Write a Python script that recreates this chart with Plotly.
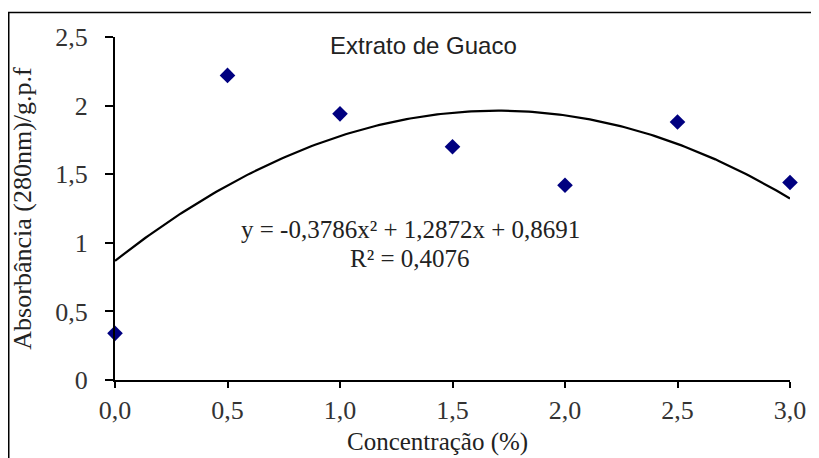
import plotly.graph_objects as go
import numpy as np

# data
concentracao = [0.0, 0.5, 1.0, 1.5, 2.0, 2.5, 3.0]
absorbancia = [0.34, 2.22, 1.94, 1.70, 1.42, 1.88, 1.44]
poly_coef = [-0.3786, 1.2872, 0.8691]  # a, b, c
r2 = 0.4076
x_ticks = [0.0, 0.5, 1.0, 1.5, 2.0, 2.5, 3.0]
x_ticklabels = ["0,0", "0,5", "1,0", "1,5", "2,0", "2,5", "3,0"]
y_ticks = [0, 0.5, 1, 1.5, 2, 2.5]
y_ticklabels = ["0", "0,5", "1", "1,5", "2", "2,5"]

xf = np.linspace(0, 3, 200)
yf = np.polyval(poly_coef, xf)

serif = "Liberation Serif, Times New Roman, serif"

W, H = 811, 450
L, R, T, B = 107, 29, 29, 78
PW, PH = W - L - R, H - T - B


def px(xpix):
    return (xpix - L) / PW


def py(ypix):
    return (H - B - ypix) / PH


fig = go.Figure()
fig.add_trace(go.Scatter(x=xf, y=yf, mode="lines",
                         line=dict(color="black", width=2.2),
                         hoverinfo="skip", showlegend=False))
fig.add_trace(go.Scatter(x=concentracao, y=absorbancia, mode="markers",
                         marker=dict(symbol="diamond", size=12, color="#000080"),
                         cliponaxis=False, showlegend=False))

fig.update_layout(
    width=W, height=H,
    margin=dict(l=L, r=R, t=T, b=B, autoexpand=False),
    paper_bgcolor="white", plot_bgcolor="white",
    font=dict(family=serif, size=26, color="#222222"),
    xaxis=dict(range=[0, 3], tickvals=x_ticks, ticktext=x_ticklabels,
               showgrid=False, zeroline=False, showline=True, automargin=False,
               linecolor="black", linewidth=2, ticks="outside", ticklen=6,
               tickwidth=2, tickcolor="black",
               tickfont=dict(family=serif, size=26, color="#333333")),
    yaxis=dict(range=[0, 2.5], tickvals=y_ticks, ticktext=y_ticklabels,
               showgrid=False, zeroline=False, showline=True, automargin=False,
               linecolor="black", linewidth=2, ticks="outside", ticklen=8,
               tickwidth=2, tickcolor="black", ticklabelstandoff=12,
               tickfont=dict(family=serif, size=26, color="#333333"),
               title=dict(text="Absorbância (280nm)/g.p.f", standoff=16,
                          font=dict(family=serif, size=26, color="#222222"))),
    showlegend=False,
)

# x-axis title (Excel places it slightly left of the plot-area centre)
fig.add_annotation(xref="paper", yref="paper", x=px(429), y=py(434),
                   xanchor="center", yanchor="middle",
                   text="Concentração (%)", showarrow=False,
                   font=dict(family=serif, size=25, color="#222222"))

fig.add_annotation(xref="paper", yref="paper", x=px(415), y=py(37),
                   xanchor="center", yanchor="middle",
                   text="Extrato de Guaco", showarrow=False,
                   font=dict(family="Liberation Sans, Arial, sans-serif", size=24, color="#222222"))
fig.add_annotation(xref="paper", yref="paper", x=px(402), y=py(221),
                   xanchor="center", yanchor="middle",
                   text="y = -0,3786x² + 1,2872x + 0,8691",
                   showarrow=False,
                   font=dict(family=serif, size=25, color="#222222"))
fig.add_annotation(xref="paper", yref="paper", x=px(402), y=py(250),
                   xanchor="center", yanchor="middle",
                   text="R² = " + f"{r2:.4f}".replace(".", ","),
                   showarrow=False,
                   font=dict(family=serif, size=25, color="#222222"))

fig.add_shape(type="rect", xref="paper", yref="paper",
              x0=px(0.75), x1=1.2, y0=-0.5, y1=py(4.5),
              line=dict(color="black", width=1.5), fillcolor="rgba(0,0,0,0)", layer="below")

fig.write_html("out.html")
